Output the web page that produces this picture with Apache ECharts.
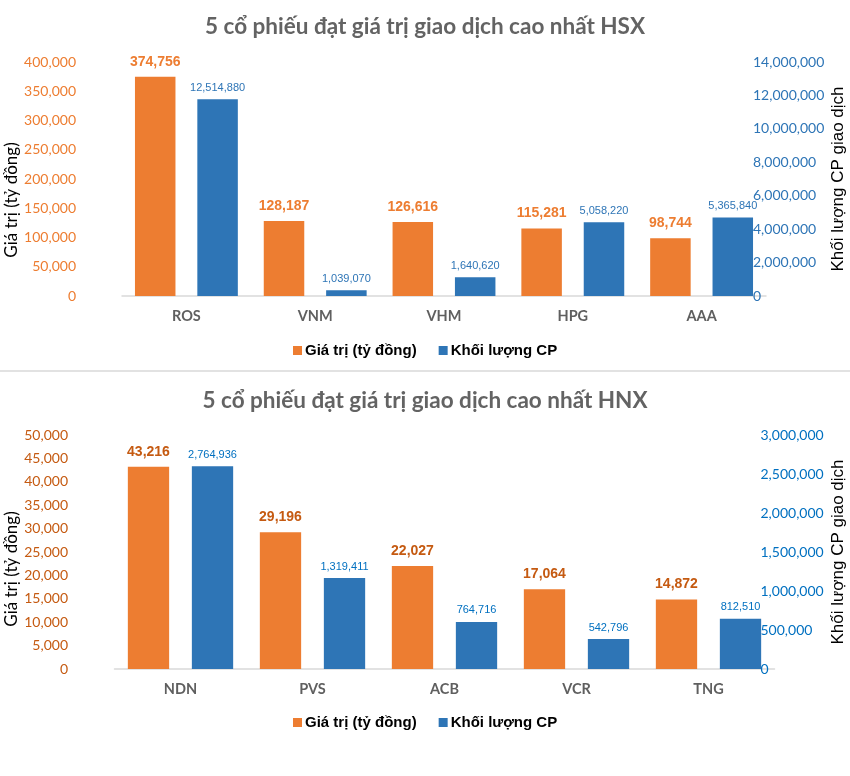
<!DOCTYPE html>
<html>
<head>
<meta charset="utf-8">
<script src="https://cdn.jsdelivr.net/npm/echarts@6/dist/echarts.min.js"></script>
<style>
html,body{margin:0;padding:0;background:#fff;}
#chart{width:850px;height:776px;}
</style>
</head>
<body>
<div id="chart"></div>
<script>
// ---- Data ----
const hsxTitle = '5 cổ phiếu đạt giá trị giao dịch cao nhất HSX';
const hnxTitle = '5 cổ phiếu đạt giá trị giao dịch cao nhất HNX';
const seriesNames = ['Giá trị (tỷ đồng)', 'Khối lượng CP'];
const leftAxisName = 'Giá trị (tỷ đồng)';
const rightAxisName = 'Khối lượng CP giao dịch';

const hsxCategories = ['ROS', 'VNM', 'VHM', 'HPG', 'AAA'];
const hsxValue = [374756, 128187, 126616, 115281, 98744];
const hsxVolume = [12514880, 1039070, 1640620, 5058220, 5365840];       // labelled values
const hsxVolumeBar = [11770000, 340000, 1120000, 4410000, 4690000];     // bar heights as drawn in the picture

const hnxCategories = ['NDN', 'PVS', 'ACB', 'VCR', 'TNG'];
const hnxValue = [43216, 29196, 22027, 17064, 14872];
const hnxVolume = [2764936, 1319411, 764716, 542796, 812510];           // labelled values
const hnxVolumeBar = [2600000, 1167000, 603000, 385000, 645000];        // bar heights as drawn in the picture

const hsxLeftAxis = {min: 0, max: 400000, interval: 50000};
const hsxRightAxis = {min: 0, max: 14000000, interval: 2000000};
const hnxLeftAxis = {min: 0, max: 50000, interval: 5000};
const hnxRightAxis = {min: 0, max: 3000000, interval: 500000};

// ---- Styles ----
const ORANGE = '#ED7D31';
const BLUE = '#2E75B6';
const fmt = v => Number(v).toLocaleString('en-US');
const NARROW = '"Liberation Sans Narrow", "Arial Narrow", "Liberation Sans", sans-serif';
const TICKFONT = 'Lato, "Open Sans", sans-serif';

function catAxis(grid, data) {
  return {
    type: 'category', gridIndex: grid, data: data,
    axisTick: {show: false},
    axisLine: {lineStyle: {color: '#D9D9D9', width: 1.5}},
    axisLabel: {margin: 13, color: '#5f5f5f', fontWeight: 'bold', fontSize: 14.5, fontFamily: TICKFONT}
  };
}
function valAxis(grid, pos, rng, color, offset) {
  return {
    type: 'value', gridIndex: grid, position: pos, min: rng.min, max: rng.max, interval: rng.interval,
    offset: offset,
    splitLine: {show: false}, axisLine: {show: false}, axisTick: {show: false},
    axisLabel: {color: color, fontSize: 14, fontFamily: TICKFONT, formatter: fmt, margin: 8}
  };
}
function barSeries(name, xi, yi, data, color, labelColor, labelSize, labelBold, labelTexts, width, gap, dist) {
  return {
    type: 'bar', name: name, xAxisIndex: xi, yAxisIndex: yi, data: data,
    barWidth: width, barGap: gap,
    itemStyle: {color: color},
    label: {
      show: true, position: 'top', distance: dist, color: labelColor, fontSize: labelSize,
      fontWeight: labelBold ? 'bold' : 'normal', fontFamily: NARROW,
      formatter: p => fmt(labelTexts[p.dataIndex])
    }
  };
}
function legend(top) {
  return {
    data: seriesNames, left: 293, top: top, padding: 0,
    icon: 'rect', itemWidth: 9, itemHeight: 9, itemGap: 22,
    textStyle: {fontFamily: '"Liberation Sans", Arial, sans-serif', fontWeight: 'bold', fontSize: 15, color: '#000', padding: [0, 0, 0, -2]}
  };
}

const chart = echarts.init(document.getElementById('chart'), null, {renderer: 'canvas'});
chart.setOption({
  backgroundColor: '#fff',
  animation: false,
  title: [
    {text: hsxTitle, left: 'center', top: 15, padding: 0,
     textStyle: {fontFamily: 'Lato, sans-serif', fontWeight: 'bold', fontSize: 22.5, color: '#636363'}},
    {text: hnxTitle, left: 'center', top: 389, padding: 0,
     textStyle: {fontFamily: 'Lato, sans-serif', fontWeight: 'bold', fontSize: 22.5, color: '#636363'}}
  ],
  legend: [legend(343), legend(715)],
  grid: [
    {left: 122, width: 644, top: 62, height: 234},
    {left: 114.5, width: 660, top: 435, height: 234}
  ],
  xAxis: [catAxis(0, hsxCategories), catAxis(1, hnxCategories)],
  yAxis: [
    valAxis(0, 'left', hsxLeftAxis, ORANGE, 38),
    valAxis(0, 'right', hsxRightAxis, BLUE, -21),
    valAxis(1, 'left', hnxLeftAxis, '#C55A11', 38.5),
    valAxis(1, 'right', hnxRightAxis, '#0070C0', -22)
  ],
  series: [
    barSeries(seriesNames[0], 0, 0, hsxValue, ORANGE, ORANGE, 14, true, hsxValue, 40.5, '54%', 8),
    barSeries(seriesNames[1], 0, 1, hsxVolumeBar, BLUE, BLUE, 11, false, hsxVolume, 40.5, '54%', 6),
    barSeries(seriesNames[0], 1, 2, hnxValue, ORANGE, '#C55A11', 14, true, hnxValue, 41.3, '55%', 8),
    barSeries(seriesNames[1], 1, 3, hnxVolumeBar, BLUE, '#0070C0', 11, false, hnxVolume, 41.3, '55%', 6)
  ],
  graphic: [
    {type: 'line', shape: {x1: 0, y1: 371, x2: 850, y2: 371}, style: {stroke: '#D9D9D9', lineWidth: 1.5}},
    {type: 'text', x: 12, y: 200, rotation: Math.PI / 2,
     style: {text: leftAxisName, fontFamily: 'Lato, sans-serif', fontSize: 17, fill: '#000', align: 'center', verticalAlign: 'middle'}},
    {type: 'text', x: 12, y: 569, rotation: Math.PI / 2,
     style: {text: leftAxisName, fontFamily: 'Lato, sans-serif', fontSize: 17, fill: '#000', align: 'center', verticalAlign: 'middle'}},
    {type: 'text', x: 838, y: 179, rotation: Math.PI / 2,
     style: {text: rightAxisName, fontFamily: '"Liberation Sans", Arial, sans-serif', fontSize: 17, fill: '#000', align: 'center', verticalAlign: 'middle'}},
    {type: 'text', x: 838, y: 552, rotation: Math.PI / 2,
     style: {text: rightAxisName, fontFamily: '"Liberation Sans", Arial, sans-serif', fontSize: 17, fill: '#000', align: 'center', verticalAlign: 'middle'}}
  ]
});
</script>
</body>
</html>
